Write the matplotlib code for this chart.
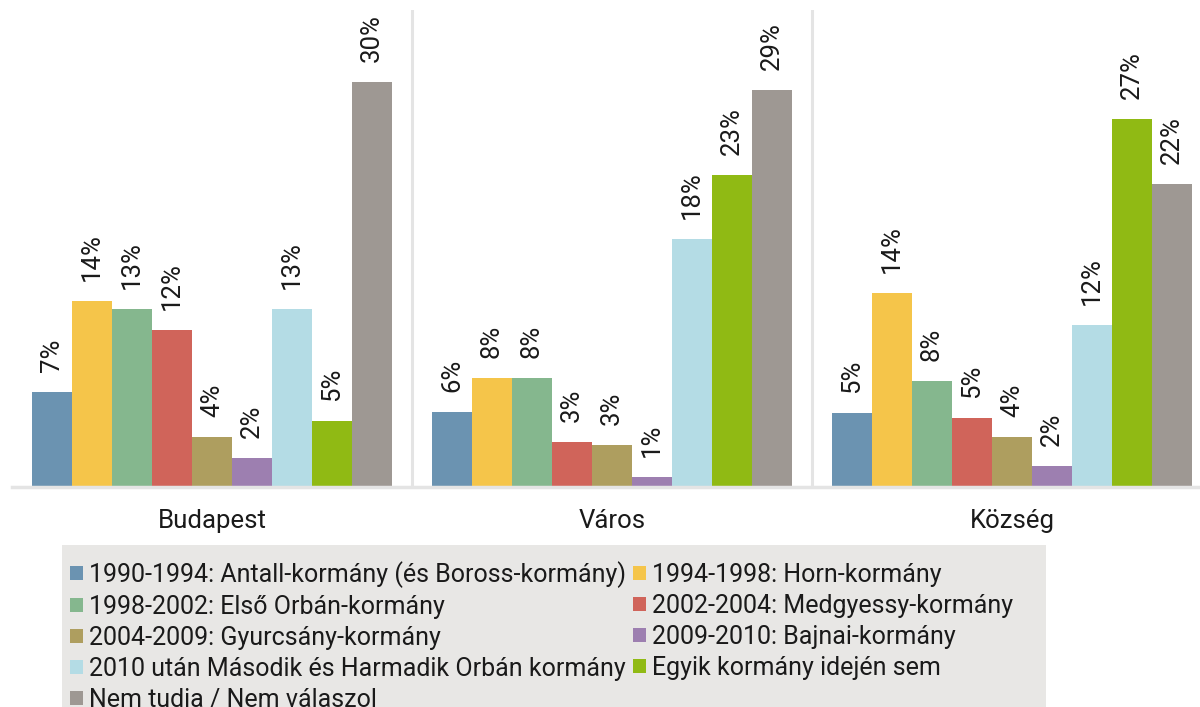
import matplotlib.pyplot as plt
import numpy as np
from matplotlib.patches import Patch, Rectangle

plt.rcParams["font.family"] = ["Roboto", "DejaVu Sans"]

_text_color = "#1a1a1a"
_line_color = "#e4e4e4"
_legend_bg = "#e8e7e5"
_fontsize = 18.5
_legend_fontsize = 18

categories = ["Budapest", "Város", "Község"]

series_names = [
    "1990-1994: Antall-kormány (és Boross-kormány)",
    "1994-1998: Horn-kormány",
    "1998-2002: Első Orbán-kormány",
    "2002-2004: Medgyessy-kormány",
    "2004-2009: Gyurcsány-kormány",
    "2009-2010: Bajnai-kormány",
    "2010 után Második és Harmadik Orbán kormány",
    "Egyik kormány idején sem",
    "Nem tudia / Nem válaszol",
]

series_colors = [
    "#6b93b1",
    "#f5c54a",
    "#85b78e",
    "#d0645a",
    "#ae9e5f",
    "#9d7fb0",
    "#b4dce5",
    "#90ba14",
    "#9e9893",
]

# values (in %) for Budapest, Város, Község
antall = [7.06, 5.53, 5.47]
horn = [13.81, 8.06, 14.40]
orban1 = [13.22, 8.06, 7.88]
medgyessy = [11.64, 3.31, 5.11]
gyurcsany = [3.73, 3.14, 3.73]
bajnai = [2.13, 0.74, 1.56]
orban23 = [13.22, 18.36, 12.03]
egyik = [4.89, 23.11, 27.26]
nem_tudja = [30.0, 29.43, 22.45]

series_values = [antall, horn, orban1, medgyessy, gyurcsany, bajnai, orban23, egyik, nem_tudja]

fig = plt.figure(figsize=(12, 7.07), dpi=100)
ax = fig.add_axes([12 / 1200, 1 - 487 / 707, 1.0, 477 / 707])

_x = np.arange(len(categories))
_width = 0.1

for j, (vals, col) in enumerate(zip(series_values, series_colors)):
    _pos = _x + (j - 4) * _width
    ax.bar(_pos, vals, width=_width, color=col, zorder=2, linewidth=0)
    for xp, v in zip(_pos, vals):
        ax.annotate(
            "{:.0f}%".format(v),
            xy=(xp, v),
            xytext=(0, 14.5),
            textcoords="offset points",
            rotation=90,
            ha="center",
            va="bottom",
            fontsize=_fontsize,
            color=_text_color,
        )

for sep in [0.5, 1.5]:
    ax.axvline(sep, color=_line_color, lw=2.2, zorder=1)

ax.set_xlim(-0.5, 2.5)
ax.set_ylim(0, 35.36)
ax.set_xticks(_x)
ax.set_xticklabels(categories, fontsize=_fontsize, color=_text_color)
ax.tick_params(axis="x", length=0, pad=16)
ax.set_yticks([])
for s in ["top", "right", "left"]:
    ax.spines[s].set_visible(False)
ax.spines["bottom"].set_color(_line_color)
ax.spines["bottom"].set_linewidth(2.5)

# legend background box (runs off the bottom edge)
fig.patches.append(
    Rectangle(
        (62 / 1200, -0.05),
        (1046 - 62) / 1200,
        0.05 + 1 - 545 / 707,
        transform=fig.transFigure,
        facecolor=_legend_bg,
        edgecolor="none",
        zorder=0,
    )
)

_handles = [Patch(facecolor=c, edgecolor="none", label=n) for n, c in zip(series_names, series_colors)]
_order = [0, 2, 4, 6, 8, 1, 3, 5, 7]
_legend = fig.legend(
    [_handles[i] for i in _order],
    [series_names[i] for i in _order],
    loc="upper left",
    bbox_to_anchor=(70 / 1200, 1 - 561 / 707),
    ncol=2,
    fontsize=_legend_fontsize,
    frameon=False,
    handlelength=0.5,
    handleheight=0.5,
    handletextpad=0.25,
    columnspacing=0.3,
    labelspacing=0.28,
    borderpad=0,
    borderaxespad=0,
)
for t in _legend.get_texts():
    t.set_color(_text_color)

fig.savefig("out.png", dpi=100)
